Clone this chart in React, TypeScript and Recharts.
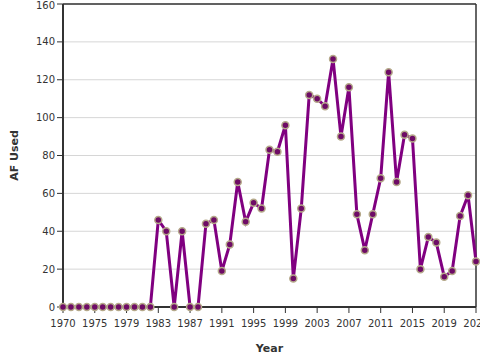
import { LineChart, Line, XAxis, YAxis, CartesianGrid, ReferenceLine } from 'recharts';

const years = [
  1970, 1972, 1973, 1974, 1975, 1976, 1977, 1978, 1979, 1980, 1981, 1982,
  1983, 1984, 1985, 1986, 1987, 1988, 1989, 1990, 1991, 1992, 1993, 1994,
  1995, 1996, 1997, 1998, 1999, 2000, 2001, 2002, 2003, 2004, 2005, 2006,
  2007, 2008, 2009, 2010, 2011, 2012, 2013, 2014, 2015, 2016, 2017, 2018,
  2019, 2020, 2021, 2022, 2023,
];

const afUsed = [
  0, 0, 0, 0, 0, 0, 0, 0, 0, 0, 0, 0,
  46, 40, 0, 40, 0, 0, 44, 46, 19, 33, 66, 45,
  55, 52, 83, 82, 96, 15, 52, 112, 110, 106, 131, 90,
  116, 49, 30, 49, 68, 124, 66, 91, 89, 20, 37, 34,
  16, 19, 48, 59, 24,
];

const yTicks = [0, 20, 40, 60, 80, 100, 120, 140, 160];

const data = years.map((y, i) => ({ year: String(y), af: afUsed[i] }));

const tickStyle = { fontSize: 10, fill: '#333', fontFamily: 'DejaVu Sans' };

export default function App() {
  return (
    <div style={{ position: 'absolute', left: 0, top: 0, background: '#fff' }}>
      <LineChart width={480} height={360} data={data} margin={{ top: 4, right: 4, bottom: 23, left: 0 }}>
        <CartesianGrid vertical={false} stroke="#d6d6d6" />
        <ReferenceLine y={160} stroke="#333" strokeWidth={1.5} />
        <ReferenceLine x="2023" stroke="#333" strokeWidth={1.5} />
        <XAxis
          dataKey="year"
          interval={3}
          height={30}
          tick={tickStyle}
          tickSize={6}
          tickMargin={7}
          stroke="#333"
          axisLine={{ stroke: '#333', strokeWidth: 2 }}
          label={{ value: 'Year', position: 'insideBottom', offset: -15, style: { fontSize: 11, fontWeight: 'bold', fill: '#333', fontFamily: 'DejaVu Sans' } }}
        />
        <YAxis
          domain={[0, 160]}
          ticks={yTicks}
          width={63}
          tick={tickStyle}
          tickSize={6}
          stroke="#333"
          axisLine={{ stroke: '#333', strokeWidth: 2 }}
          label={{ value: 'AF Used', angle: -90, position: 'insideLeft', offset: 14, style: { fontSize: 11, fontWeight: 'bold', fill: '#333', fontFamily: 'DejaVu Sans', textAnchor: 'middle' } }}
        />
        <Line
          type="linear"
          dataKey="af"
          stroke="#800080"
          strokeWidth={3}
          dot={{ r: 3.5, fill: '#6e0b66', stroke: '#b5a98a', strokeWidth: 1.5 }}
          isAnimationActive={false}
        />
      </LineChart>
    </div>
  );
}
